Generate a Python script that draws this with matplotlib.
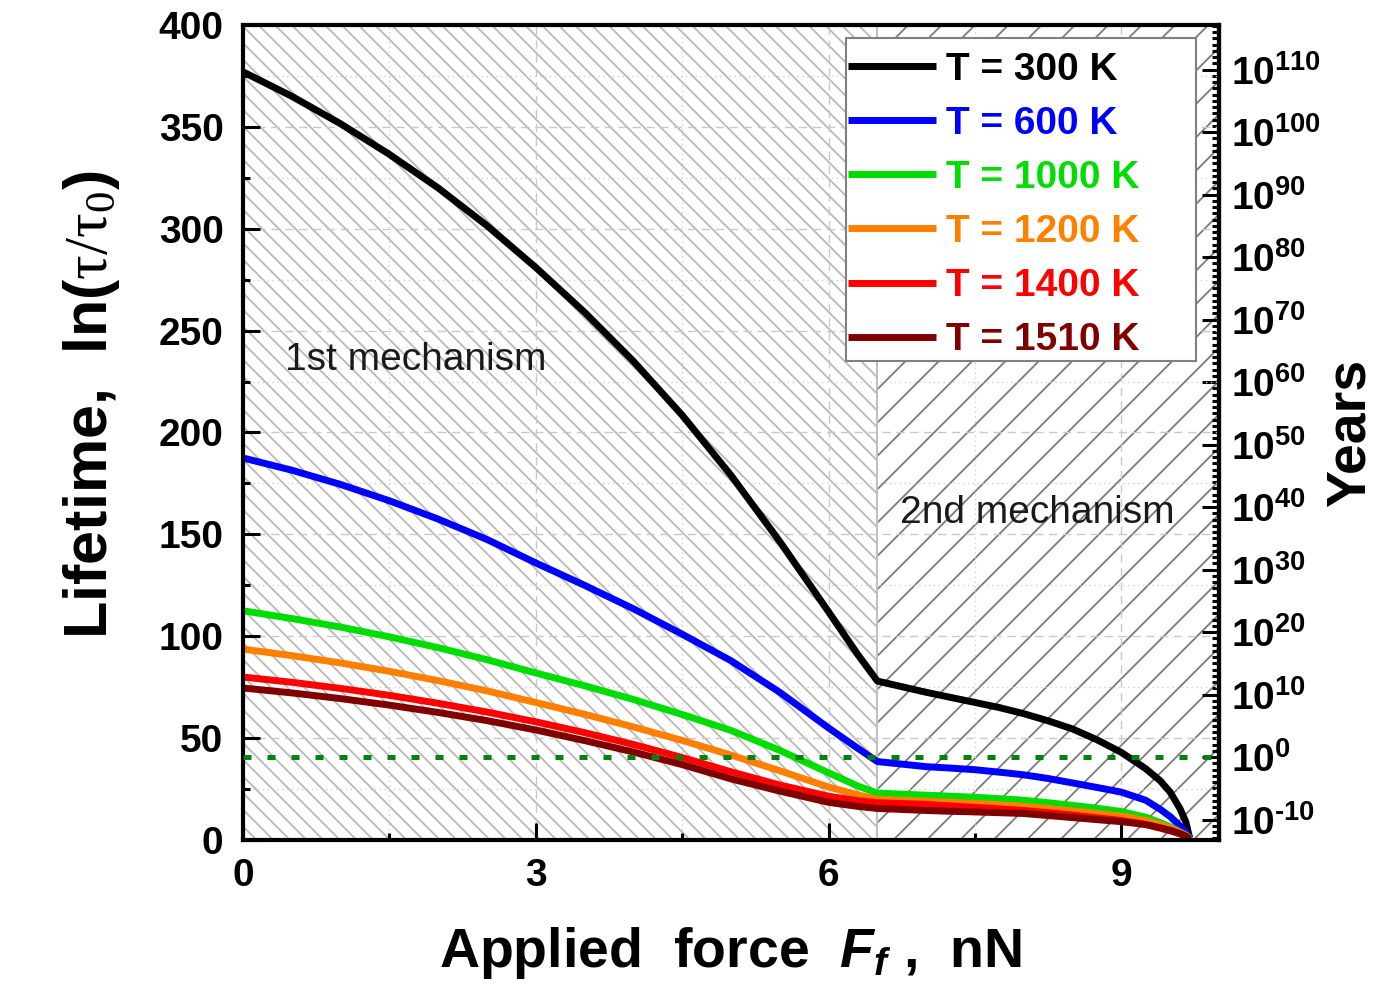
import numpy as np
import matplotlib
matplotlib.use("Agg")
import matplotlib.pyplot as plt
from matplotlib.patches import Rectangle
from matplotlib.ticker import MultipleLocator, FixedLocator, FuncFormatter

plt.rcParams['font.family'] = ['Liberation Sans', 'DejaVu Sans']
plt.rcParams['font.weight'] = 'bold'
plt.rcParams['axes.labelweight'] = 'bold'
plt.rcParams['mathtext.fontset'] = 'custom'
plt.rcParams['mathtext.rm'] = 'Liberation Sans:bold'
plt.rcParams['mathtext.it'] = 'Liberation Sans:italic:bold'
plt.rcParams['mathtext.bf'] = 'Liberation Sans:bold'
plt.rcParams['mathtext.sf'] = 'Liberation Serif:normal'
plt.rcParams['hatch.linewidth'] = 1.3

# applied force, nN
force = [0, 0.5, 1, 1.5, 2, 2.5, 3, 3.5, 4, 4.5, 5, 5.5, 6, 6.3, 6.5,
         7, 7.25, 7.5, 7.75, 8, 8.25, 8.5, 8.75, 9, 9.25, 9.4, 9.5, 9.6, 9.66, 9.7]

# ln(tau/tau0) for each temperature
T300 = [377, 365, 351.5, 336.5, 320, 301.5, 281, 259, 235, 208.5, 179, 146.5, 112, 91, 78,
        72.5, 70, 67.5, 65, 62, 58.5, 54.5, 49.2, 43, 35, 29, 23.5, 15.5, 9, 1]
T600 = [187.5, 181.5, 174.5, 166.5, 157.5, 147.5, 136, 125, 113.5, 101, 88, 72.5, 55, 45, 38.5,
        36, 35.3, 34.5, 33.3, 32, 30.2, 28, 25.8, 23.5, 19.5, 15, 11.5, 7, 4, 1]
T1000 = [112.5, 108.7, 104.5, 99.7, 94.4, 88.5, 82, 75.7, 69, 61.6, 53.8, 44, 33, 26.5, 23,
         22, 21.5, 21, 20.3, 19.5, 18.3, 17, 15.6, 14, 11.2, 8.5, 6.5, 4, 2.5, 1]
T1200 = [93.7, 90.5, 86.9, 82.8, 78.2, 73.2, 67.5, 61.7, 55.5, 48.9, 41.7, 34, 26, 22.2, 20,
         19, 18.5, 18, 17.3, 16.5, 15.5, 14.3, 13.1, 11.8, 9.6, 7.5, 5.9, 3.8, 2.3, 0.8]
T1400 = [80, 77.4, 74.4, 71, 67.1, 62.8, 58, 52.7, 46.9, 40.5, 33.5, 27, 21.5, 19.3, 18.3,
         17.5, 16.7, 16, 15.3, 14.5, 13.4, 12.2, 10.9, 9.6, 7.6, 5.8, 4.5, 3, 1.8, 0.8]
T1510 = [74.6, 72.2, 69.4, 66.2, 62.6, 58.6, 54, 48.8, 43.2, 37, 30, 24, 18.5, 16.5, 15.5,
         14.5, 14.1, 13.8, 13.4, 13, 12, 11, 10, 9, 7.6, 6, 4.8, 3.2, 2, 0.5]

series = [T300, T600, T1000, T1200, T1400, T1510]
labels = ['T = 300 K', 'T = 600 K', 'T = 1000 K', 'T = 1200 K', 'T = 1400 K', 'T = 1510 K']
colors = ['#000000', '#0000ff', '#00dd00', '#ff8000', '#ff0000', '#800000']

year_decades = list(range(-10, 111, 10))   # right axis, log10(years)

mech_boundary = 6.5      # nN, 1st -> 2nd mechanism
one_year = 40.7          # ln(tau/tau0) that corresponds to 1 year
per_decade = 3.067       # ln(tau/tau0) units per decade of years

fig = plt.figure(figsize=(13.75, 9.98), dpi=100)
ax = fig.add_axes([0.1767, 0.1583, 0.7098, 0.8167])

# hatched mechanism regions
ax.axvspan(0, mech_boundary, facecolor='white', edgecolor='#b8b8b8', hatch='\\\\', lw=0, zorder=0)
ax.axvspan(mech_boundary, 10, facecolor='white', edgecolor='#7a7a7a', hatch='/', lw=0, zorder=0)
ax.axvline(mech_boundary, color='#c0c0c0', lw=1.5, zorder=0.5)

ax.grid(which='major', ls=(0, (6, 4)), color='#c8c8c8', lw=1)
ax.grid(which='minor', ls=(0, (1, 2.5)), color='#d0d0d0', lw=1)

for y, lab, c in zip(series, labels, colors):
    ax.plot(force, y, color=c, lw=5, label=lab, solid_capstyle='butt', solid_joinstyle='round')

ax.axhline(one_year, color='#0a800a', lw=3.6, ls=(0, (1.6, 3.2)), zorder=5)

ax.text(0.43, 235.6, '1st mechanism', fontsize=28, fontweight='normal', va='center', color='#1a1a1a')
ax.text(6.73, 160.5, '2nd mechanism', fontsize=28, fontweight='normal', va='center', color='#1a1a1a')

ax.set_xlim(0, 10)
ax.set_ylim(0, 400)
ax.xaxis.set_major_locator(MultipleLocator(3))
ax.xaxis.set_minor_locator(MultipleLocator(1.5))
ax.yaxis.set_major_locator(MultipleLocator(50))
ax.yaxis.set_minor_locator(MultipleLocator(25))
ax.tick_params(which='both', direction='in', top=False, right=False, width=2.2, labelsize=28)
ax.tick_params(which='major', length=12)
ax.tick_params(which='minor', length=5)
ax.tick_params(axis='y', pad=14)
ax.tick_params(axis='x', pad=13)
for s in ax.spines.values():
    s.set_linewidth(3)

ax.set_xlabel(r'Applied  force  $F_f$ ,  nN', fontsize=40, labelpad=22)
ax.set_ylabel(r'Lifetime,  ln($\mathsf{\tau/\tau_0}$)', fontsize=44, labelpad=26)
ax.yaxis.label.set_y(0.534)

HYPHEN = '\u2010'


def years_fmt(v, pos):
    n = int(round(v))
    if n < 0:
        return '$10^{' + HYPHEN + str(abs(n)) + '}$'
    return '$10^{' + str(n) + '}$'


sec = ax.secondary_yaxis('right', functions=(lambda L: (L - one_year) / per_decade,
                                             lambda d: d * per_decade + one_year))
sec.yaxis.set_major_locator(FixedLocator(year_decades))
sec.yaxis.set_minor_locator(FixedLocator(list(range(-13, 118))))
sec.yaxis.set_major_formatter(FuncFormatter(years_fmt))
sec.tick_params(which='both', direction='in', width=2.2, labelsize=28, pad=9)
sec.tick_params(which='major', length=12)
sec.tick_params(which='minor', length=5)
sec.spines['right'].set_linewidth(3)
sec.set_ylabel('Years', fontsize=40, labelpad=2)

# legend box
ax.add_patch(Rectangle((0.618, 0.588), 0.358, 0.396, transform=ax.transAxes,
                       facecolor='white', edgecolor='#808080', lw=1.5, zorder=9))
leg = ax.legend(loc='upper left', bbox_to_anchor=(0.6096, 0.979), frameon=False,
                prop={'weight': 'bold', 'size': 28}, handlelength=2.26, handletextpad=0.26,
                labelspacing=0.465, borderpad=0.25, borderaxespad=0)
for text, line in zip(leg.get_texts(), leg.get_lines()):
    text.set_color(line.get_color())
leg.set_zorder(10)

fig.savefig('out.png', dpi=100)
